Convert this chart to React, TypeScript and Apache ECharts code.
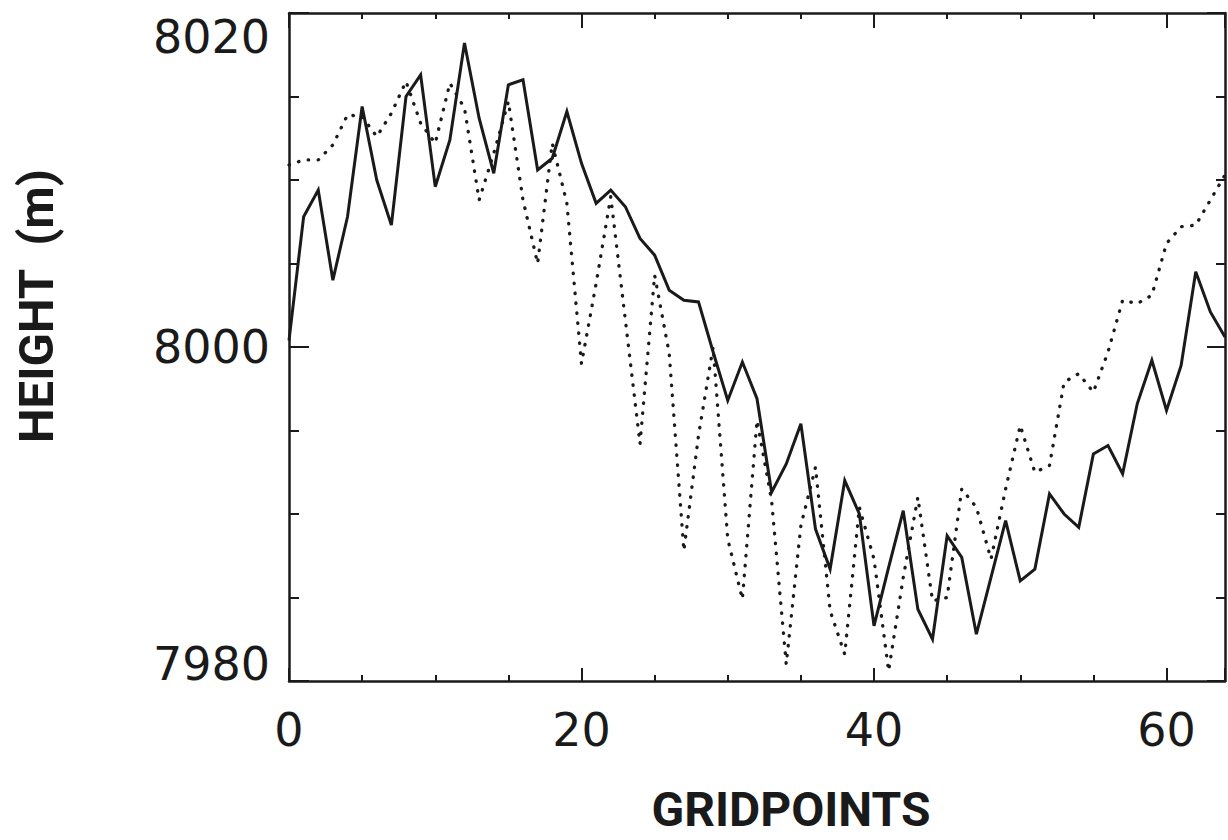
import React, { useEffect, useRef } from "react";
import * as echarts from "echarts";

// gridpoint index 0..64
const gridpoints: number[] = Array.from({ length: 65 }, (_, i) => i);

// solid curve (m)
const solidHeights: number[] = [
  8000.4, 8007.8, 8009.4, 8004.0, 8007.8, 8014.4, 8010.0, 8007.3, 8015.0, 8016.3,
  8009.6, 8012.4, 8018.2, 8013.7, 8010.4, 8015.7, 8016.0, 8010.6, 8011.3, 8014.1,
  8011.0, 8008.6, 8009.4, 8008.4, 8006.5, 8005.5, 8003.4, 8002.8, 8002.7, 7999.7,
  7996.8, 7999.1, 7996.9, 7991.3, 7993.0, 7995.4, 7989.1, 7986.7, 7992.0, 7990.0,
  7983.3, 7986.8, 7990.2, 7984.3, 7982.5, 7988.7, 7987.4, 7982.8, 7986.2, 7989.6,
  7986.0, 7986.7, 7991.2, 7990.0, 7989.2, 7993.6, 7994.1, 7992.4, 7996.6, 7999.2,
  7996.2, 7998.9, 8004.5, 8002.1, 8000.6,
];

// dotted curve (m)
const dottedHeights: number[] = [
  8010.9, 8011.2, 8011.2, 8012.1, 8013.9, 8013.8, 8012.6, 8014.0, 8015.9, 8013.4,
  8012.2, 8015.8, 8014.3, 8008.8, 8011.6, 8014.7, 8008.8, 8005.0, 8012.2, 8008.6,
  7999.0, 8003.8, 8009.0, 8001.6, 7994.2, 8004.3, 7999.6, 7987.8, 7994.7, 8000.0,
  7988.5, 7984.9, 7995.6, 7990.8, 7981.0, 7989.3, 7992.8, 7984.2, 7981.6, 7990.4,
  7987.3, 7980.6, 7986.2, 7991.0, 7984.8, 7985.0, 7991.5, 7990.4, 7987.3, 7991.5,
  7995.3, 7992.5, 7992.9, 7997.9, 7998.4, 7997.3, 7999.7, 8002.8, 8002.6, 8003.1,
  8006.2, 8007.2, 8007.3, 8008.8, 8010.3,
];

const xMin = 0;
const xMax = 64;
const xMajor = 20;
const xMinor = 5;
const yMin = 7980;
const yMax = 8020;
const yMajor = 20;
const xTitle = "GRIDPOINTS";
const yTitle = "HEIGHT  (m)";

const INK = "#1a1a1a";
const TICK_FONT = "DejaVu Sans";
const TITLE_FONT = "Roboto";

export default function App() {
  const ref = useRef<HTMLDivElement>(null);

  useEffect(() => {
    if (!ref.current) return;
    const chart = echarts.init(ref.current, null, { renderer: "svg" });

    const axisLine = { show: true, onZero: false, lineStyle: { color: INK, width: 2.5 } };

    const xBase = {
      type: "value" as const,
      min: xMin,
      max: xMax,
      splitLine: { show: false },
      axisLine,
    };

    const yBase = {
      type: "value" as const,
      min: yMin,
      max: yMax,
      interval: yMajor,
      splitLine: { show: false },
      axisLine,
    };

    chart.setOption({
      animation: false,
      backgroundColor: "#ffffff",
      grid: { left: 289, top: 13, right: 2, bottom: 159, containLabel: false },
      xAxis: [
        {
          ...xBase,
          position: "bottom",
          interval: xMajor,
          axisTick: { show: true, inside: true, length: 13, lineStyle: { color: INK, width: 2 } },
          axisLabel: {
            show: true,
            margin: 26,
            color: INK,
            fontFamily: TICK_FONT,
            fontSize: 46,
            formatter: (v: number) => (v % xMajor === 0 ? String(v) : ""),
          },
        },
        {
          ...xBase,
          position: "bottom",
          interval: xMinor,
          axisLine: { show: false },
          axisTick: { show: true, inside: true, length: 6, lineStyle: { color: INK, width: 2 } },
          axisLabel: { show: false },
        },
        {
          ...xBase,
          position: "top",
          interval: xMajor,
          axisTick: { show: true, inside: true, length: 15, lineStyle: { color: INK, width: 2 } },
          axisLabel: { show: false },
        },
        {
          ...xBase,
          position: "top",
          interval: xMinor,
          axisLine: { show: false },
          axisTick: { show: true, inside: true, length: 6, lineStyle: { color: INK, width: 2 } },
          axisLabel: { show: false },
        },
      ],
      yAxis: [
        {
          ...yBase,
          position: "left",
          axisTick: { show: true, inside: true, length: 20, lineStyle: { color: INK, width: 2 } },
          minorTick: { show: true, splitNumber: 4, length: 10, lineStyle: { color: INK, width: 2 } },
          axisLabel: {
            show: true,
            margin: 19,
            color: INK,
            fontFamily: TICK_FONT,
            fontSize: 46,
            formatter: (v: number) =>
              v === yMax ? `{t|${v}}` : v === yMin ? `{b|${v}}` : `{m|${v}}`,
            rich: {
              t: { fontFamily: TICK_FONT, fontSize: 46, color: INK, padding: [48, 0, 0, 0] },
              b: { fontFamily: TICK_FONT, fontSize: 46, color: INK, padding: [0, 0, 34, 0] },
              m: { fontFamily: TICK_FONT, fontSize: 46, color: INK },
            },
          },
        },
        {
          ...yBase,
          position: "right",
          axisTick: { show: true, inside: true, length: 18, lineStyle: { color: INK, width: 2 } },
          minorTick: { show: true, splitNumber: 4, length: 9, lineStyle: { color: INK, width: 2 } },
          axisLabel: { show: false },
        },
      ],
      graphic: [
        {
          type: "text",
          x: 791,
          y: 809,
          style: {
            text: xTitle,
            fontFamily: TITLE_FONT,
            fontWeight: "bold",
            fontSize: 48,
            lineHeight: 40,
            fill: INK,
            align: "center",
            verticalAlign: "middle",
          },
        },
        {
          type: "text",
          x: 36,
          y: 306,
          rotation: Math.PI / 2,
          style: {
            text: yTitle,
            fontFamily: TITLE_FONT,
            fontWeight: "bold",
            fontSize: 49,
            lineHeight: 40,
            fill: INK,
            align: "center",
            verticalAlign: "middle",
          },
        },
      ],
      series: [
        {
          type: "line",
          name: "dotted",
          xAxisIndex: 0,
          yAxisIndex: 0,
          showSymbol: false,
          symbol: "none",
          data: gridpoints.map((g, i) => [g, dottedHeights[i]]),
          lineStyle: { color: INK, width: 3.3, type: [0.5, 9.5], cap: "round" },
          z: 2,
        },
        {
          type: "line",
          name: "solid",
          xAxisIndex: 0,
          yAxisIndex: 0,
          showSymbol: false,
          symbol: "none",
          data: gridpoints.map((g, i) => [g, solidHeights[i]]),
          lineStyle: { color: INK, width: 3, join: "miter" },
          z: 3,
        },
      ],
    });

    return () => {
      chart.dispose();
    };
  }, []);

  return (
    <div
      ref={ref}
      style={{ position: "fixed", left: 0, top: 0, width: 1228, height: 840, background: "#fff" }}
    />
  );
}
